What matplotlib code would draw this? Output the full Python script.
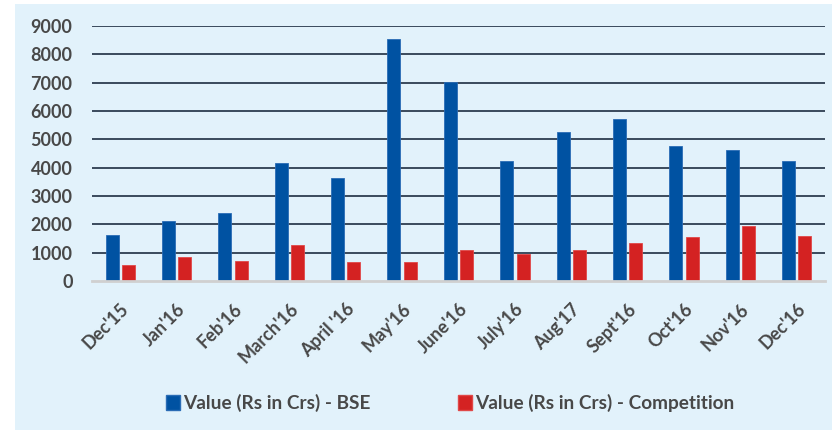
import matplotlib.pyplot as plt
import matplotlib.patches as mpatches
import matplotlib.transforms as mtransforms
import numpy as np

months = ["Dec'15", "Jan'16", "Feb'16", "March'16", "April '16", "May'16",
          "June'16", "July'16", "Aug'17", "Sept'16", "Oct'16", "Nov'16", "Dec'16"]
bse_values = [1620, 2100, 2400, 4180, 3650, 8550, 7040, 4230, 5250, 5700, 4760, 4640, 4230]
competition_values = [565, 830, 720, 1280, 680, 680, 1100, 950, 1100, 1340, 1540, 1930, 1600]
y_ticks = [0, 1000, 2000, 3000, 4000, 5000, 6000, 7000, 8000, 9000]
series_names = ["Value (Rs in Crs) - BSE", "Value (Rs in Crs) - Competition"]

plt.rcParams['font.family'] = ['Lato', 'DejaVu Sans']

BLUE = '#0052A2'
RED = '#D42222'
PANEL = '#E2F2FB'
TEXT = '#484848'

fig = plt.figure(figsize=(8.39, 4.30), dpi=100, facecolor='white')
fig.patches.append(mpatches.Rectangle((15 / 839, 0), 817 / 839, 426 / 430,
                                      transform=fig.transFigure, facecolor=PANEL,
                                      edgecolor='none', zorder=-10))

ax = fig.add_axes([92 / 839, 1 - 281 / 430, 733 / 839, 255 / 430])
ax.set_facecolor('none')

x = np.arange(len(months))
width = 0.23
off = 0.145
ax.bar(x - off, bse_values, width, color=BLUE, edgecolor='#2A6CB5', linewidth=0.6,
       label=series_names[0], zorder=3)
ax.bar(x + off, competition_values, width, color=RED, edgecolor='#E04848', linewidth=0.6,
       label=series_names[1], zorder=3)

ax.set_xlim(-0.5, len(months) - 0.5)
ax.set_ylim(0, 9000)
ax.set_yticks(y_ticks)
ax.set_yticklabels([str(v) for v in y_ticks], fontsize=13, fontweight='bold', color=TEXT)
for v in y_ticks[1:]:
    ax.axhline(v, color='#3A4A5C', linewidth=1.4, zorder=1)
ax.axhline(0, color='#D0D0D0', linewidth=2, zorder=4, clip_on=False)

ax.set_xticks(x)
ax.set_xticklabels(months, rotation=45, ha='right', rotation_mode='anchor',
                   fontsize=13, fontweight='bold', color=TEXT)
shift = mtransforms.ScaledTranslation(5 / 100, 0, fig.dpi_scale_trans)
for lbl in ax.get_xticklabels():
    lbl.set_transform(lbl.get_transform() + shift)
ax.tick_params(axis='y', length=0, pad=14)
ax.tick_params(axis='x', length=0, pad=14)
for s in ax.spines.values():
    s.set_visible(False)

handles = [mpatches.Patch(facecolor=BLUE, edgecolor='#2A6CB5'),
           mpatches.Patch(facecolor=RED, edgecolor='#E04848')]
fig.legend(handles, series_names, loc='center', bbox_to_anchor=(0.537, 1 - 403 / 430),
           ncol=2, frameon=False, prop={'size': 13.7, 'weight': 'bold'},
           handlelength=0.7, handleheight=0.85, handletextpad=0.2,
           columnspacing=4.6, labelcolor=TEXT)

fig.savefig('out.png', dpi=100, facecolor='white')
